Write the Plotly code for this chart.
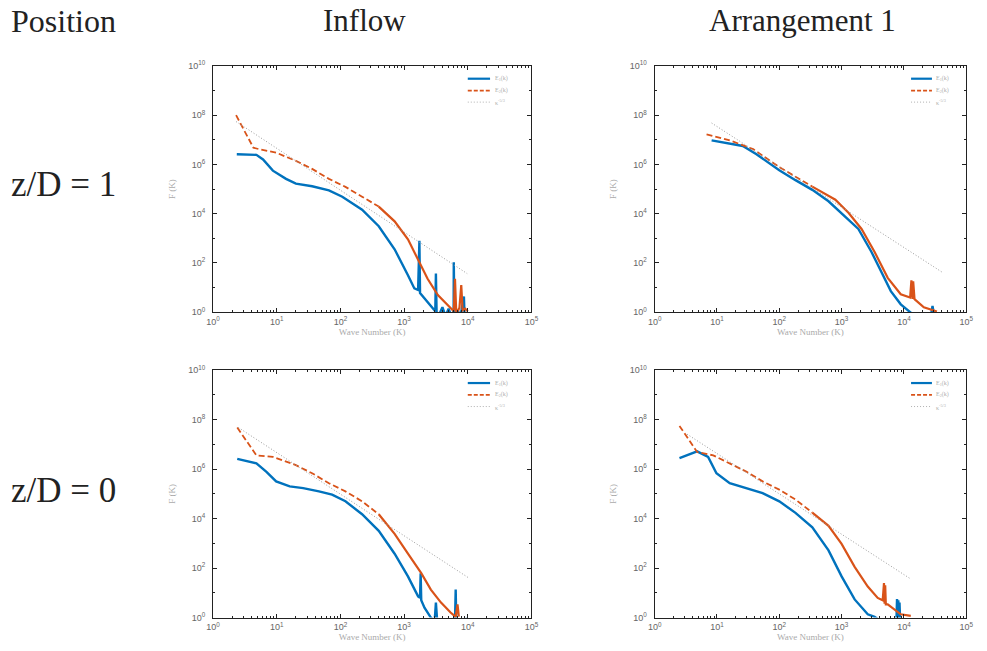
import plotly.graph_objects as go

# ---------------- data ----------------
# Panel A: Inflow, z/D = 1
a_k1 = [2.36, 4.8, 6.1, 8.7, 14, 20, 36, 66, 107, 219, 400, 710, 1150, 1450, 1660, 1740, 1780, 2090, 2950, 3090, 3160, 3240, 3550, 4000, 4470, 5000, 5620, 6000, 6030, 6170, 7080, 7600, 8700, 8900]
a_e1 = [2.6e6, 2.45e6, 1.6e6, 5.6e5, 2.6e5, 1.66e5, 1.3e5, 8.9e4, 4.9e4, 1.45e4, 3.1e3, 360, 32, 9.3, 8, 800, 6, 3.7, 1.26, 1.1, 37, 1.0, 0.8, 1.6, 0.7, 1.4, 0.6, 1.2, 107, 0.8, 1.1, 0.6, 4.4, 0.7]
a_k2 = [2.3, 4.3, 5.4, 9.8, 20, 36, 66, 120, 219, 400, 710, 1150, 1660, 2340, 3390, 4790, 6030, 6300, 6600, 7400, 7900, 8300, 9100, 10000]
a_e2 = [1e8, 4.8e6, 4.1e6, 3.0e6, 1.4e6, 6.6e5, 2.6e5, 1.23e5, 4.9e4, 1.95e4, 4.9e3, 910, 145, 23, 5, 2, 1.1, 23, 0.9, 1.5, 12.6, 1.2, 1.4, 1.1]
a_kr = [2.3, 9800]
a_er = [5.5e7, 37]

# Panel B: Arrangement 1, z/D = 1
b_k1 = [8.2, 26, 43, 100, 182, 339, 617, 1120, 1860, 3020, 4370, 6170, 8910, 12300, 14100, 27500, 28800, 30200, 33000]
b_e1 = [9.5e6, 5.6e6, 2.6e6, 5.8e5, 2.3e5, 9.3e4, 3.2e4, 8.1e3, 2.4e3, 280, 39, 7.2, 2.1, 1.07, 0.8, 0.9, 1.8, 0.9, 0.9]
b_k2 = [6.8, 16, 38, 100, 339, 794, 1290, 2090, 3390, 5500, 8900, 12600, 13200, 13800, 14100, 14800, 20900, 28200, 33900]
b_e2 = [1.66e7, 9.5e6, 4.2e6, 7.8e5, 1.26e5, 3.7e4, 1.1e4, 2.4e3, 280, 25, 5.4, 4, 20, 3.5, 18, 3.4, 1.6, 1.26, 1.07]
b_kr = [8.2, 40700]
b_er = [4.8e7, 43]

# Panel C: Inflow, z/D = 0
c_k1 = [2.4, 4.8, 6.9, 9.8, 16, 26, 46, 74, 120, 219, 400, 710, 1150, 1660, 1780, 1820, 1860, 2090, 2630, 3020, 3160, 3310, 6300, 6460, 6600, 9800]
c_e1 = [2.6e6, 1.7e6, 7.8e5, 3.2e5, 2.0e5, 1.7e5, 1.26e5, 9.3e4, 5.0e4, 1.5e4, 3.2e3, 380, 46, 7.2, 6.3, 62, 5, 2.5, 1.0, 0.7, 4, 0.7, 0.7, 13.5, 0.7, 0.9]
c_k2 = [2.4, 4.8, 8.7, 20, 36, 66, 120, 219, 400, 710, 1150, 1860, 2630, 3800, 5370, 6460, 6900, 7240]
c_e2 = [4.8e7, 3.6e6, 3.1e6, 1.45e6, 6.8e5, 2.7e5, 1.26e5, 5.0e4, 1.5e4, 2.4e3, 380, 62, 13.5, 4, 1.6, 1.07, 3.4, 1.1]
c_kr = [2.5, 10500]
c_er = [4.8e7, 39]

# Panel D: Arrangement 1, z/D = 0
d_k1 = [2.5, 4.8, 7.2, 9.8, 16, 30, 54, 100, 182, 339, 617, 1000, 1620, 2630, 3390, 4000, 7600, 7760, 7940, 8130, 8300, 8500, 8700]
d_e1 = [2.8e6, 5.2e6, 3.1e6, 6.8e5, 2.7e5, 1.7e5, 1.07e5, 5.0e4, 1.7e4, 4.4e3, 520, 46, 5.4, 1.35, 1.07, 0.8, 0.8, 5.6, 0.9, 5, 0.9, 4, 0.8]
d_k2 = [2.5, 4.8, 8.7, 16, 30, 54, 100, 182, 339, 617, 1000, 1620, 2630, 3800, 4570, 4790, 4900, 5010, 5130, 5500, 8900, 12900]
d_e2 = [5.6e7, 4.9e6, 3.6e6, 1.7e6, 7.8e5, 3.2e5, 1.48e5, 5.9e4, 1.74e4, 5.1e3, 950, 112, 18, 6.2, 5, 25, 3.6, 20, 3.4, 3.4, 1.35, 1.17]
d_kr = [3.3, 12300]
d_er = [2.6e7, 39]

col_titles = ["Inflow", "Arrangement 1"]
row_titles = ["z/D = 1", "z/D = 0"]
corner_title = "Position"
legend_names = ["E<sub>1</sub>(k)", "E<sub>2</sub>(k)", "κ<sup>-5/3</sup>"]
x_title = "Wave Number (K)"
y_title = "F (K)"
x_tick_vals = [1, 10, 100, 1e3, 1e4, 1e5]
x_tick_text = ["10<sup>0</sup>", "10<sup>1</sup>", "10<sup>2</sup>", "10<sup>3</sup>", "10<sup>4</sup>", "10<sup>5</sup>"]
y_tick_vals = [1, 1e2, 1e4, 1e6, 1e8, 1e10]
y_tick_text = ["10<sup>0</sup>", "10<sup>2</sup>", "10<sup>4</sup>", "10<sup>6</sup>", "10<sup>8</sup>", "10<sup>10</sup>"]
dash_until_k = 400  # dashes merge into a solid look at high wavenumber

panels = [
    (a_k1, a_e1, a_k2, a_e2, a_kr, a_er),
    (b_k1, b_e1, b_k2, b_e2, b_kr, b_er),
    (c_k1, c_e1, c_k2, c_e2, c_kr, c_er),
    (d_k1, d_e1, d_k2, d_e2, d_kr, d_er),
]

# ---------------- layout geometry ----------------
W, H = 987, 651
x_doms = [(209 / W, 532 / W), (657 / W, 973 / W)]
y_doms = [(1 - 311 / H, 1 - 60 / H), (1 - 622 / H, 1 - 370 / H)]

BLUE = "#0072BD"
ORANGE = "#D95319"
GREY = "#9a9a9a"
LEG_GREY = "#b0b0b0"

fig = go.Figure()
layout = dict(
    width=W, height=H, margin=dict(l=0, r=0, t=0, b=0),
    paper_bgcolor="white", plot_bgcolor="white", showlegend=False,
)

x_minor = [m * 10 ** d for d in range(5) for m in range(2, 10)]
y_minor = [10 ** d for d in range(1, 10, 2)]

shapes = []
annotations = []
legend_styles = [
    dict(color=BLUE, width=2.2),
    dict(color=ORANGE, width=1.8, dash="4px,2px"),
    dict(color=LEG_GREY, width=1, dash="1px,2px"),
]
legend_rows = [0.948, 0.900, 0.853]

for i, (k1, e1, k2, e2, kr, er) in enumerate(panels):
    r, c = divmod(i, 2)
    n = i + 1
    xa = "x" if n == 1 else f"x{n}"
    ya = "y" if n == 1 else f"y{n}"

    fig.add_trace(go.Scatter(x=k1, y=e1, mode="lines", name=legend_names[0],
                             line=dict(color=BLUE, width=2.4), xaxis=xa, yaxis=ya))
    # split the E2 series: dashed at low k, visually solid where the data is dense
    lo = [j for j, kv in enumerate(k2) if kv <= dash_until_k]
    hi_start = lo[-1] if lo else 0
    fig.add_trace(go.Scatter(x=k2[:hi_start + 1], y=e2[:hi_start + 1], mode="lines",
                             name=legend_names[1],
                             line=dict(color=ORANGE, width=1.8, dash="6px,3px"),
                             xaxis=xa, yaxis=ya))
    fig.add_trace(go.Scatter(x=k2[hi_start:], y=e2[hi_start:], mode="lines",
                             name=legend_names[1],
                             line=dict(color=ORANGE, width=2.2),
                             xaxis=xa, yaxis=ya))
    fig.add_trace(go.Scatter(x=kr, y=er, mode="lines", name=legend_names[2],
                             line=dict(color=GREY, width=1, dash="1px,2px"),
                             xaxis=xa, yaxis=ya))

    axis_common = dict(
        type="log", showgrid=False, zeroline=False, showline=True, linecolor="#222",
        linewidth=1, mirror="allticks", ticks="inside", ticklen=4, tickcolor="#222",
        tickfont=dict(family="Liberation Sans, Arial", size=9, color="#666"),
    )
    layout["xaxis" if n == 1 else f"xaxis{n}"] = dict(
        axis_common, domain=list(x_doms[c]), anchor=ya, range=[0, 5],
        tickmode="array", tickvals=x_tick_vals, ticktext=x_tick_text, ticklabelstandoff=1,
        minor=dict(ticks="inside", ticklen=2, tickcolor="#222", tickmode="array", tickvals=x_minor),
        title=dict(text=x_title, standoff=0,
                   font=dict(family="Liberation Serif", size=9, color="#aaa")),
    )
    layout["yaxis" if n == 1 else f"yaxis{n}"] = dict(
        axis_common, domain=list(y_doms[r]), anchor=xa, range=[0, 10],
        tickmode="array", tickvals=y_tick_vals, ticktext=y_tick_text, ticklabelstandoff=5,
        minor=dict(ticks="inside", ticklen=2, tickcolor="#222", tickmode="array", tickvals=y_minor),
        title=dict(text=y_title, standoff=11,
                   font=dict(family="Liberation Serif", size=9, color="#aaa")),
    )

    # compact legend drawn inside the axes (top-right corner)
    lx0, lx1 = (0.80, 0.87) if c == 0 else (0.823, 0.89)
    for j in range(3):
        shapes.append(dict(type="line", xref=f"{xa} domain", yref=f"{ya} domain",
                           x0=lx0, x1=lx1, y0=legend_rows[j], y1=legend_rows[j],
                           line=legend_styles[j]))
        annotations.append(dict(text=legend_names[j], xref=f"{xa} domain", yref=f"{ya} domain",
                                x=lx1 + 0.008, y=legend_rows[j], xanchor="left", yanchor="middle",
                                showarrow=False,
                                font=dict(family="Liberation Serif", size=6, color=LEG_GREY)))

title_font = dict(family="Liberation Serif", color="#222")
heads = [
    (corner_title, 2, 14, "left", 32),
    (col_titles[0], 363, 14, "center", 31),
    (col_titles[1], 807, 14, "center", 31),
    (row_titles[0], 2, 181, "left", 35),
    (row_titles[1], 2, 493, "left", 35),
]
for txt, px, py, anc, fs in heads:
    annotations.append(dict(text=txt, x=px / W, y=1 - py / H, xref="paper", yref="paper",
                            xanchor=anc, yanchor="middle", showarrow=False,
                            font=dict(title_font, size=fs)))

layout["annotations"] = annotations
layout["shapes"] = shapes

fig.update_layout(**layout)
fig.write_html("out.html", config={"displayModeBar": False},
               post_script="document.body.style.margin='0px';document.body.style.padding='0px';")
